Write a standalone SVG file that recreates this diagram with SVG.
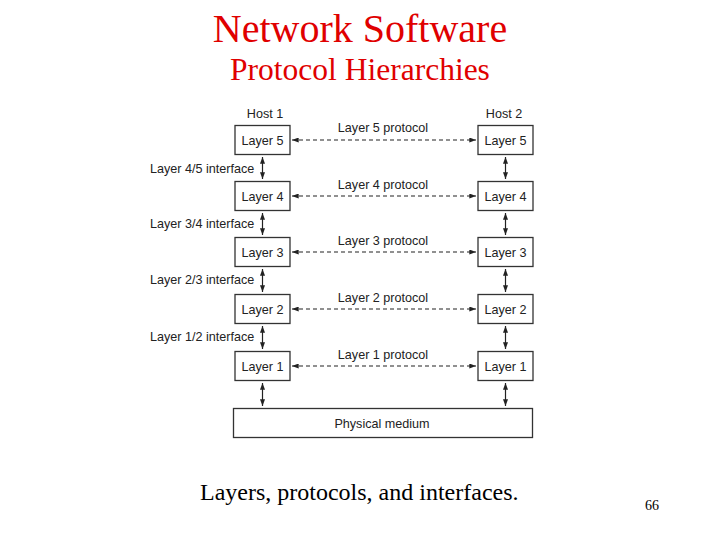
<svg xmlns="http://www.w3.org/2000/svg" width="720" height="540" viewBox="0 0 720 540">
<defs>
<marker id="ah" viewBox="0 0 8 6" refX="8" refY="3" markerWidth="7" markerHeight="5" markerUnits="userSpaceOnUse" orient="auto-start-reverse">
<path d="M0,0 L8,3 L0,6 z" fill="#222"/>
</marker>
<style>
.title{font-family:"Liberation Serif","Times New Roman",serif;fill:#e00000;text-anchor:middle}
.cap{font-family:"Liberation Serif","Times New Roman",serif;fill:#000}
.t{font-family:"Liberation Sans",Arial,sans-serif;font-size:12.6px;fill:#222}
.c{text-anchor:middle}
.box{fill:#fff;stroke:#333;stroke-width:1.3}
.v{stroke:#222;stroke-width:1.2;fill:none;marker-start:url(#ah);marker-end:url(#ah)}
.d{stroke:#222;stroke-width:1.2;fill:none;stroke-dasharray:4,3;marker-start:url(#ah);marker-end:url(#ah)}
</style>
</defs>
<rect width="720" height="540" fill="#fff"/>
<text class="title" x="360" y="42" font-size="40">Network Software</text>
<text class="title" x="360" y="80" font-size="31.5">Protocol Hierarchies</text>

<text class="t c" x="265" y="118">Host 1</text>
<text class="t c" x="504" y="118">Host 2</text>

<g id="h1l5"><rect class="box" x="235" y="125.5" width="55" height="29"/><text class="t c" x="262.5" y="144.5">Layer 5</text></g>
<g id="h1l4"><rect class="box" x="235" y="181.5" width="55" height="29"/><text class="t c" x="262.5" y="200.5">Layer 4</text></g>
<g id="h1l3"><rect class="box" x="235" y="237.5" width="55" height="29"/><text class="t c" x="262.5" y="256.5">Layer 3</text></g>
<g id="h1l2"><rect class="box" x="235" y="294.5" width="55" height="29"/><text class="t c" x="262.5" y="313.5">Layer 2</text></g>
<g id="h1l1"><rect class="box" x="235" y="351.5" width="55" height="29"/><text class="t c" x="262.5" y="370.5">Layer 1</text></g>

<g id="h2l5"><rect class="box" x="478" y="125.5" width="55" height="29"/><text class="t c" x="505.5" y="144.5">Layer 5</text></g>
<g id="h2l4"><rect class="box" x="478" y="181.5" width="55" height="29"/><text class="t c" x="505.5" y="200.5">Layer 4</text></g>
<g id="h2l3"><rect class="box" x="478" y="237.5" width="55" height="29"/><text class="t c" x="505.5" y="256.5">Layer 3</text></g>
<g id="h2l2"><rect class="box" x="478" y="294.5" width="55" height="29"/><text class="t c" x="505.5" y="313.5">Layer 2</text></g>
<g id="h2l1"><rect class="box" x="478" y="351.5" width="55" height="29"/><text class="t c" x="505.5" y="370.5">Layer 1</text></g>

<g id="phys"><rect class="box" x="233.5" y="408.5" width="299" height="29"/><text class="t c" x="382" y="427.5">Physical medium</text></g>

<g id="labels">
<text class="t c" x="383" y="132">Layer 5 protocol</text>
<text class="t c" x="383" y="189">Layer 4 protocol</text>
<text class="t c" x="383" y="245">Layer 3 protocol</text>
<text class="t c" x="383" y="302">Layer 2 protocol</text>
<text class="t c" x="383" y="359">Layer 1 protocol</text>
<text class="t" x="150" y="173">Layer 4/5 interface</text>
<text class="t" x="150" y="228">Layer 3/4 interface</text>
<text class="t" x="150" y="284">Layer 2/3 interface</text>
<text class="t" x="150" y="341">Layer 1/2 interface</text>
</g>

<g id="connectors">
<line class="d" x1="292" y1="140" x2="476" y2="140"/>
<line class="d" x1="292" y1="196" x2="476" y2="196"/>
<line class="d" x1="292" y1="252" x2="476" y2="252"/>
<line class="d" x1="292" y1="309" x2="476" y2="309"/>
<line class="d" x1="292" y1="366" x2="476" y2="366"/>
<line class="v" x1="262.5" y1="157" x2="262.5" y2="179"/>
<line class="v" x1="262.5" y1="213" x2="262.5" y2="235"/>
<line class="v" x1="262.5" y1="269" x2="262.5" y2="292"/>
<line class="v" x1="262.5" y1="326" x2="262.5" y2="349"/>
<line class="v" x1="262.5" y1="383" x2="262.5" y2="406"/>
<line class="v" x1="505.5" y1="157" x2="505.5" y2="179"/>
<line class="v" x1="505.5" y1="213" x2="505.5" y2="235"/>
<line class="v" x1="505.5" y1="269" x2="505.5" y2="292"/>
<line class="v" x1="505.5" y1="326" x2="505.5" y2="349"/>
<line class="v" x1="505.5" y1="383" x2="505.5" y2="406"/>
</g>

<text class="cap" x="200" y="500" font-size="24">Layers, protocols, and interfaces.</text>
<text class="cap" x="645" y="510" font-size="14">66</text>
</svg>
